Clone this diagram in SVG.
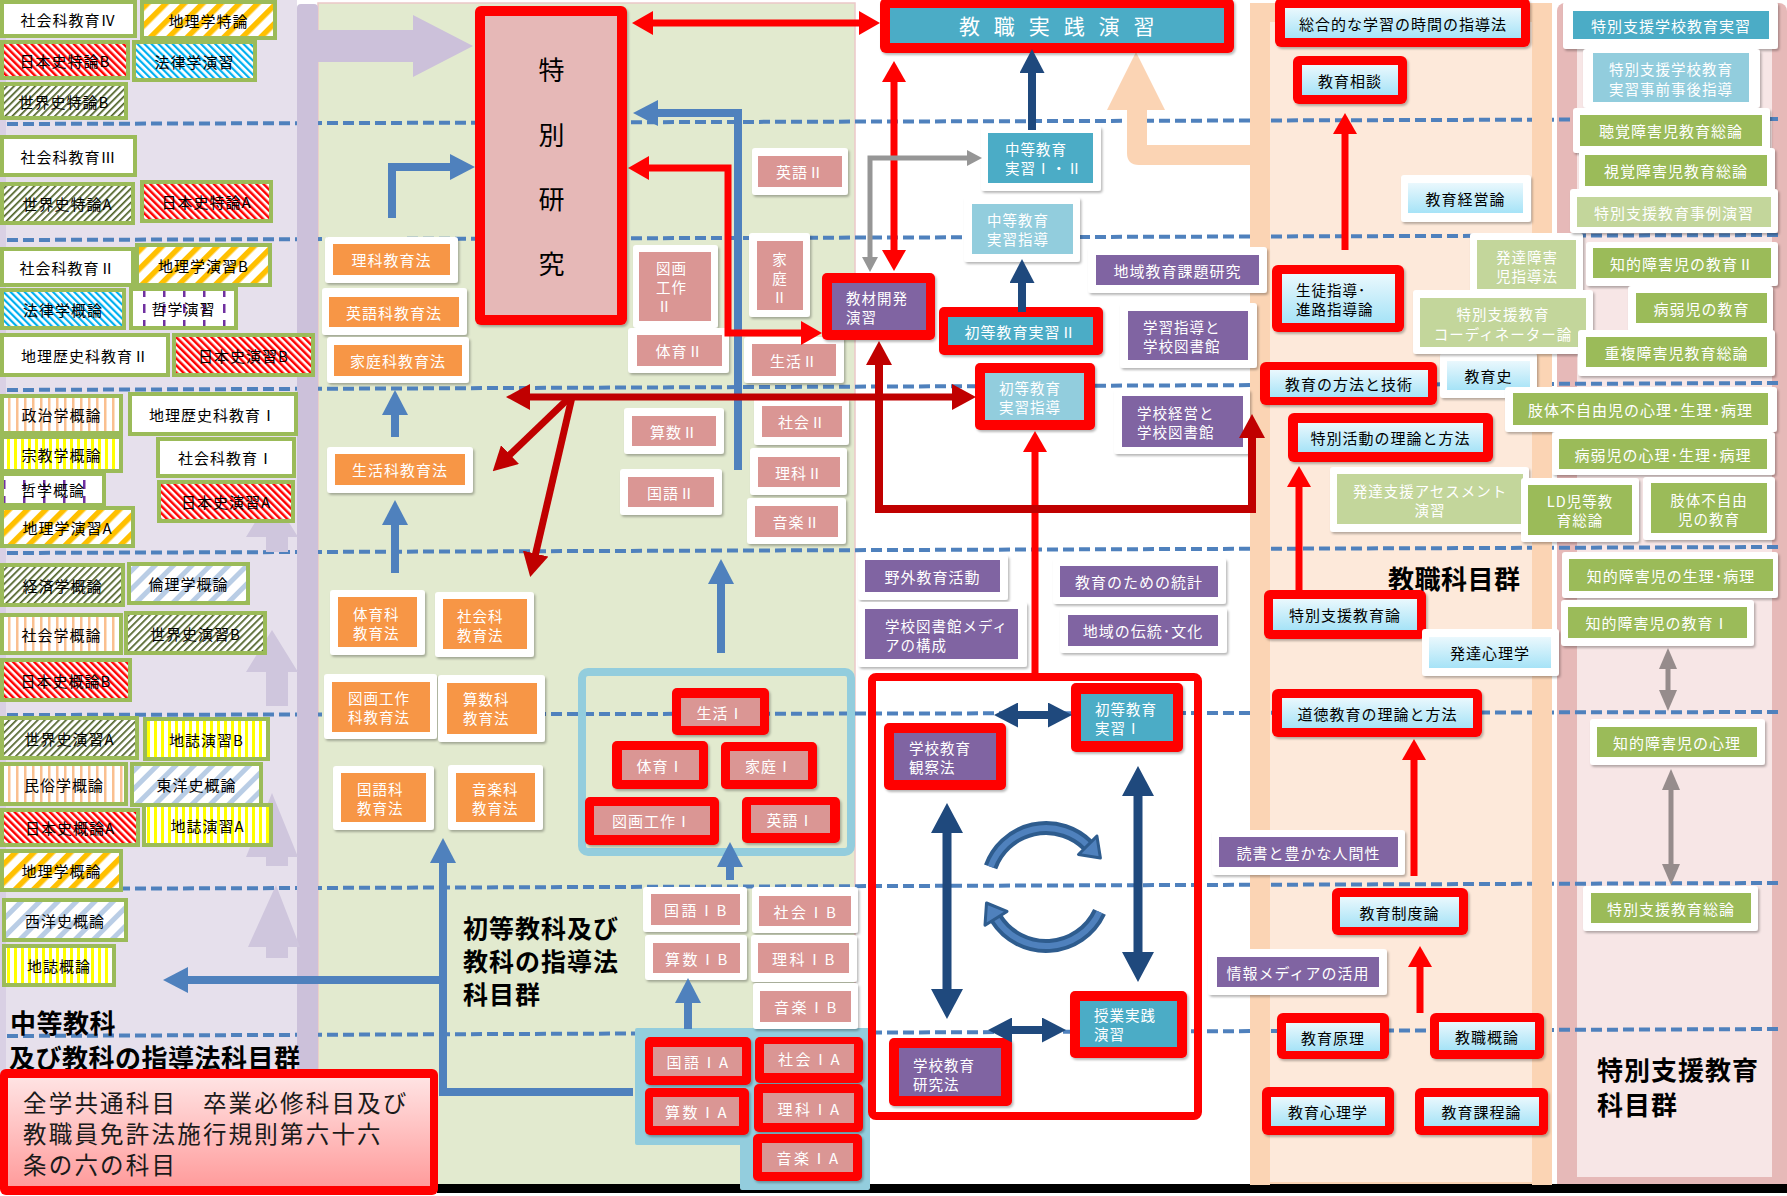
<svg xmlns="http://www.w3.org/2000/svg" width="1787" height="1196" viewBox="0 0 1787 1196">
<defs>
<style>
text{font-family:'Noto Sans CJK JP','Noto Sans CJK SC',sans-serif;font-size:15px;letter-spacing:1px;dominant-baseline:central;fill:#000}
.c{text-anchor:middle}
.w{fill:#fff}
.m{font-size:14.5px}
.b{font-weight:bold;font-size:26px;letter-spacing:0.5px}
.ow{fill:#fff;filter:url(#sh)}
.or{fill:#f00;filter:url(#sh)}
.og{fill:#9BBB59}
.pk{fill:#DA9694}
.on{fill:#F79646}
.tl{fill:#4BACC6}
.lt{fill:#92CDDD}
.pu{fill:#8064A2}
.gn{fill:#9BBB59}
.lg{fill:#C3D69B}
.lb{fill:url(#lbg)}
.dl{stroke:#4F81BD;stroke-width:4;stroke-dasharray:11 5;fill:none}
.cb{stroke:#4F81BD;stroke-width:8;fill:none}
.cr{stroke:#FF0000;stroke-width:7;fill:none}
.cd{stroke:#C00000;stroke-width:7;fill:none}
.cn{stroke:#1F497D;stroke-width:8;fill:none}
.cg{stroke:#969696;stroke-width:5;fill:none}
.cp{stroke:#968C8C;stroke-width:5;fill:none}
</style>
<filter id="sh" x="-5%" y="-5%" width="115%" height="125%"><feDropShadow dx="1.5" dy="2" stdDeviation="1.2" flood-color="#000" flood-opacity="0.28"/></filter>
<linearGradient id="lbg" x1="0" y1="0" x2="0" y2="1"><stop offset="0" stop-color="#EAF8FD"/><stop offset="1" stop-color="#A6E3F7"/></linearGradient>
<linearGradient id="pkg" x1="0" y1="0" x2="0" y2="1"><stop offset="0" stop-color="#FFE3E3"/><stop offset="1" stop-color="#FF9C9C"/></linearGradient>
<pattern id="pRed" patternUnits="userSpaceOnUse" width="5" height="5" patternTransform="rotate(-45)"><rect width="5" height="5" fill="#fff"/><rect width="2.5" height="5" fill="#FF0000"/></pattern>
<pattern id="pGrn" patternUnits="userSpaceOnUse" width="5" height="5" patternTransform="rotate(45)"><rect width="5" height="5" fill="#fff"/><rect width="1.7" height="5" fill="#4F6228"/></pattern>
<pattern id="pOrg" patternUnits="userSpaceOnUse" width="13" height="13" patternTransform="rotate(45)"><rect width="13" height="13" fill="#fff"/><rect width="5.5" height="13" fill="#FFC000"/></pattern>
<pattern id="pCya" patternUnits="userSpaceOnUse" width="5" height="5" patternTransform="rotate(-45)"><rect width="5" height="5" fill="#fff"/><rect width="2.2" height="5" fill="#00B0F0"/></pattern>
<pattern id="pLbl" patternUnits="userSpaceOnUse" width="13" height="13" patternTransform="rotate(45)"><rect width="13" height="13" fill="#fff"/><rect width="5" height="13" fill="#B9CDE5"/></pattern>
<pattern id="pPch" patternUnits="userSpaceOnUse" width="8" height="8"><rect width="8" height="8" fill="#fff"/><rect width="2.5" height="8" fill="#FAC090"/></pattern>
<pattern id="pYel" patternUnits="userSpaceOnUse" width="7" height="7"><rect width="7" height="7" fill="#fff"/><rect width="3" height="7" fill="#FFFF00"/></pattern>
<pattern id="pPur" patternUnits="userSpaceOnUse" width="20" height="16"><rect width="20" height="16" fill="#fff"/><rect x="3" width="2.5" height="9" fill="#7030A0"/></pattern>
<marker id="mb" markerUnits="userSpaceOnUse" markerWidth="25" markerHeight="26" viewBox="0 0 25 26" refX="1" refY="13" orient="auto-start-reverse"><path d="M0,0L25,13L0,26z" fill="#4F81BD"/></marker>
<marker id="mr" markerUnits="userSpaceOnUse" markerWidth="21" markerHeight="24" viewBox="0 0 21 24" refX="1" refY="12" orient="auto-start-reverse"><path d="M0,0L21,12L0,24z" fill="#FF0000"/></marker>
<marker id="md" markerUnits="userSpaceOnUse" markerWidth="24" markerHeight="26" viewBox="0 0 24 26" refX="1" refY="13" orient="auto-start-reverse"><path d="M0,0L24,13L0,26z" fill="#C00000"/></marker>
<marker id="mn" markerUnits="userSpaceOnUse" markerWidth="30" markerHeight="32" viewBox="0 0 30 32" refX="1" refY="16" orient="auto-start-reverse"><path d="M0,0L30,16L0,32z" fill="#1F497D"/></marker>
<marker id="mn2" markerUnits="userSpaceOnUse" markerWidth="24" markerHeight="25" viewBox="0 0 24 25" refX="1" refY="12.5" orient="auto-start-reverse"><path d="M0,0L24,12.5L0,25z" fill="#1F497D"/></marker>
<marker id="mg" markerUnits="userSpaceOnUse" markerWidth="15" markerHeight="16" viewBox="0 0 15 16" refX="1" refY="8" orient="auto-start-reverse"><path d="M0,0L15,8L0,16z" fill="#969696"/></marker>
<marker id="mp" markerUnits="userSpaceOnUse" markerWidth="21" markerHeight="18" viewBox="0 0 21 18" refX="1" refY="9" orient="auto-start-reverse"><path d="M0,0L21,9L0,18z" fill="#968C8C"/></marker>
</defs>

<g id="background">
<rect width="1787" height="1196" fill="#fff"/>
<rect x="0" y="0" width="297" height="1185" fill="#E6E0EC"/>
<rect x="0" y="0" width="6" height="1185" fill="#D9D0E4"/>
<rect x="318" y="3" width="537" height="1182" fill="#E2EACF" stroke="#EBC8C8" stroke-width="1.5"/>
<rect x="1250" y="3" width="302" height="1182" rx="10" fill="#FBD4B4"/>
<rect x="1270" y="22" width="262" height="1160" fill="#FDE9DA"/>
<rect x="1557" y="3" width="230" height="1190" rx="8" fill="#E6B9B8"/>
<rect x="1577" y="8" width="195" height="1169" fill="#F7E6E6"/>
<rect x="437" y="1184" width="1350" height="9" fill="#000"/>
</g>

<g id="dashed-lines">
<path class="dl" d="M7 124L1780 119"/>
<path class="dl" d="M7 240L1780 235"/>
<path class="dl" d="M7 390L1780 383"/>
<path class="dl" d="M7 553L1780 547"/>
<path class="dl" d="M7 715L1780 712"/>
<path class="dl" d="M7 889L1780 883"/>
<path class="dl" d="M7 1036L1780 1029"/>
</g>

<g id="panel-stripes">
<rect x="297" y="4" width="21" height="1181" rx="4" fill="#CCC1DA"/>
<rect x="1250" y="3" width="20" height="1182" fill="#FBD4B4"/>
<rect x="1532" y="3" width="20" height="1182" fill="#FBD4B4"/>
</g>

<g id="decor-arrows">
<polygon points="318,30 413,30 413,15 473,46 413,77 413,62 318,62" fill="#CCC1DA"/>
<polygon points="272,495 298,537 288,537 288,552 266,552 266,537 246,537" fill="#CFC6DD"/>
<polygon points="272,630 298,672 288,672 288,706 266,706 266,672 246,672" fill="#CFC6DD"/>
<polygon points="272,793 298,857 288,857 288,866 266,866 266,857 246,857" fill="#CFC6DD"/>
<polygon points="276,885 300,947 288,947 288,958 266,958 266,947 248,947" fill="#CFC6DD"/>
<path d="M1250 145H1147V110H1165L1136,52L1107,110H1127V153Q1127,165 1139,165H1250z" fill="#FBD4B4"/>
</g>

<g id="containers">
<rect x="582" y="672" width="269" height="180" rx="6" fill="none" stroke="#93CDDD" stroke-width="8"/>
<polygon points="637,1030 868,1030 868,1188 742,1188 742,1143 637,1143" fill="#93CDDD" stroke="#93CDDD" stroke-width="4" stroke-linejoin="round"/>
<rect x="872" y="677" width="326" height="439" rx="4" fill="none" stroke="#FF0000" stroke-width="8"/>
</g>

<g id="n1"><rect class="og" x="0" y="0" width="137" height="38"/><rect x="4" y="4" width="129" height="30" fill="#fff"/><text class="c" x="68.5" y="19">社会科教育Ⅳ</text></g>
<g id="n2"><rect class="og" x="140" y="0" width="137" height="40"/><rect x="144" y="4" width="129" height="32" fill="url(#pOrg)"/><text class="c" x="208.5" y="20">地理学特論</text></g>
<g id="n3"><rect class="og" x="0" y="40" width="130" height="40"/><rect x="4" y="44" width="122" height="32" fill="url(#pRed)"/><text class="c" x="65" y="60">日本史特論B</text></g>
<g id="n4"><rect class="og" x="132" y="40" width="125" height="42"/><rect x="136" y="44" width="117" height="34" fill="url(#pCya)"/><text class="c" x="194.5" y="61">法律学演習</text></g>
<g id="n5"><rect class="og" x="0" y="82" width="128" height="38"/><rect x="4" y="86" width="120" height="30" fill="url(#pGrn)"/><text class="c" x="64" y="101">世界史特論B</text></g>
<g id="n6"><rect class="og" x="0" y="135" width="137" height="42"/><rect x="4" y="139" width="129" height="34" fill="#fff"/><text class="c" x="68.5" y="156">社会科教育Ⅲ</text></g>
<g id="n7"><rect class="og" x="0" y="182" width="135" height="43"/><rect x="4" y="186" width="127" height="35" fill="url(#pGrn)"/><text class="c" x="67.5" y="203.5">世界史特論A</text></g>
<g id="n8"><rect class="og" x="140" y="180" width="133" height="43"/><rect x="144" y="184" width="125" height="35" fill="url(#pRed)"/><text class="c" x="206.5" y="201.5">日本史特論A</text></g>
<g id="n9"><rect class="og" x="0" y="247" width="135" height="40"/><rect x="4" y="251" width="127" height="32" fill="#fff"/><text class="c" x="67.5" y="267">社会科教育Ⅱ</text></g>
<g id="n10"><rect class="og" x="135" y="243" width="137" height="44"/><rect x="139" y="247" width="129" height="36" fill="url(#pOrg)"/><text class="c" x="203.5" y="265">地理学演習B</text></g>
<g id="n11"><rect class="og" x="0" y="288" width="126" height="42"/><rect x="4" y="292" width="118" height="34" fill="url(#pCya)"/><text class="c" x="63" y="309">法律学概論</text></g>
<g id="n12"><rect class="og" x="129" y="287" width="109" height="43"/><rect x="133" y="291" width="101" height="35" fill="url(#pPur)"/><text class="c" x="183.5" y="308.5">哲学演習</text></g>
<g id="n13"><rect class="og" x="0" y="333" width="170" height="44"/><rect x="4" y="337" width="162" height="36" fill="#fff"/><text class="c" x="85" y="355">地理歴史科教育Ⅱ</text></g>
<g id="n14"><rect class="og" x="172" y="333" width="143" height="44"/><rect x="176" y="337" width="135" height="36" fill="url(#pRed)"/><text class="c" x="243.5" y="355">日本史演習B</text></g>
<g id="n15"><rect class="og" x="0" y="394" width="123" height="41"/><rect x="4" y="398" width="115" height="33" fill="url(#pPch)"/><text class="c" x="61.5" y="414.5">政治学概論</text></g>
<g id="n16"><rect class="og" x="128" y="392" width="170" height="44"/><rect x="132" y="396" width="162" height="36" fill="#fff"/><text class="c" x="213" y="414">地理歴史科教育Ⅰ</text></g>
<g id="n17"><rect class="og" x="0" y="435" width="123" height="38"/><rect x="4" y="439" width="115" height="30" fill="url(#pYel)"/><text class="c" x="61.5" y="454">宗教学概論</text></g>
<g id="n18"><rect class="og" x="156" y="437" width="140" height="41"/><rect x="160" y="441" width="132" height="33" fill="#fff"/><text class="c" x="226" y="457.5">社会科教育Ⅰ</text></g>
<g id="n19"><rect class="og" x="0" y="472" width="106" height="35"/><rect x="4" y="476" width="98" height="27" fill="url(#pPur)"/><text class="c" x="53" y="489.5">哲学概論</text></g>
<g id="n20"><rect class="og" x="157" y="480" width="138" height="43"/><rect x="161" y="484" width="130" height="35" fill="url(#pRed)"/><text class="c" x="226" y="501.5">日本史演習A</text></g>
<g id="n21"><rect class="og" x="0" y="506" width="135" height="42"/><rect x="4" y="510" width="127" height="34" fill="url(#pOrg)"/><text class="c" x="67.5" y="527">地理学演習A</text></g>
<g id="n22"><rect class="og" x="0" y="563" width="125" height="44"/><rect x="4" y="567" width="117" height="36" fill="url(#pGrn)"/><text class="c" x="62.5" y="585">経済学概論</text></g>
<g id="n23"><rect class="og" x="127" y="562" width="123" height="43"/><rect x="131" y="566" width="115" height="35" fill="url(#pLbl)"/><text class="c" x="188.5" y="583.5">倫理学概論</text></g>
<g id="n24"><rect class="og" x="0" y="613" width="123" height="42"/><rect x="4" y="617" width="115" height="34" fill="url(#pPch)"/><text class="c" x="61.5" y="634">社会学概論</text></g>
<g id="n25"><rect class="og" x="124" y="611" width="143" height="44"/><rect x="128" y="615" width="135" height="36" fill="url(#pGrn)"/><text class="c" x="195.5" y="633">世界史演習B</text></g>
<g id="n26"><rect class="og" x="0" y="658" width="132" height="44"/><rect x="4" y="662" width="124" height="36" fill="url(#pRed)"/><text class="c" x="66" y="680">日本史概論B</text></g>
<g id="n27"><rect class="og" x="0" y="716" width="139" height="44"/><rect x="4" y="720" width="131" height="36" fill="url(#pGrn)"/><text class="c" x="69.5" y="738">世界史演習A</text></g>
<g id="n28"><rect class="og" x="143" y="717" width="127" height="44"/><rect x="147" y="721" width="119" height="36" fill="url(#pYel)"/><text class="c" x="206.5" y="739">地誌演習B</text></g>
<g id="n29"><rect class="og" x="0" y="762" width="128" height="44"/><rect x="4" y="766" width="120" height="36" fill="url(#pPch)"/><text class="c" x="64" y="784">民俗学概論</text></g>
<g id="n30"><rect class="og" x="130" y="762" width="133" height="45"/><rect x="134" y="766" width="125" height="37" fill="url(#pLbl)"/><text class="c" x="196.5" y="784.5">東洋史概論</text></g>
<g id="n31"><rect class="og" x="0" y="808" width="140" height="39"/><rect x="4" y="812" width="132" height="31" fill="url(#pRed)"/><text class="c" x="70" y="827.5">日本史概論A</text></g>
<g id="n32"><rect class="og" x="142" y="803" width="131" height="44"/><rect x="146" y="807" width="123" height="36" fill="url(#pYel)"/><text class="c" x="207.5" y="825">地誌演習A</text></g>
<g id="n33"><rect class="og" x="0" y="849" width="123" height="43"/><rect x="4" y="853" width="115" height="35" fill="url(#pOrg)"/><text class="c" x="61.5" y="870.5">地理学概論</text></g>
<g id="n34"><rect class="og" x="2" y="898" width="126" height="44"/><rect x="6" y="902" width="118" height="36" fill="url(#pLbl)"/><text class="c" x="65" y="920">西洋史概論</text></g>
<g id="n35"><rect class="og" x="2" y="944" width="114" height="43"/><rect x="6" y="948" width="106" height="35" fill="url(#pYel)"/><text class="c" x="59" y="965.5">地誌概論</text></g>

<g id="label-chuto"><text class="b" x="10" y="1021">中等教科<tspan x="9" dy="35">及び教科の指導法科目群</tspan></text></g>
<g id="note-box"><rect x="0" y="1069" width="438" height="126" rx="6" fill="#FF0000"/><rect x="8" y="1078" width="422" height="108" fill="url(#pkg)"/>
<text x="23" y="1102" style="font-size:23.5px;letter-spacing:2.2px;fill:#1a1a1a">全学共通科目　卒業必修科目及び<tspan x="23" dy="31">教職員免許法施行規則第六十六</tspan><tspan x="23" dy="31">条の六の科目</tspan></text></g>

<g id="n-rika-ho"><rect class="ow" x="325" y="237" width="133" height="46" rx="3"/><rect class="on" x="333" y="244" width="117" height="31"/><text class="c w" x="391.5" y="259.5">理科教育法</text></g>
<g id="n-eigo-ho"><rect class="ow" x="322" y="288" width="145" height="47" rx="3"/><rect class="on" x="329" y="297" width="130" height="30"/><text class="c w" x="394" y="312">英語科教育法</text></g>
<g id="n-katei-ho"><rect class="ow" x="327" y="337" width="142" height="46" rx="3"/><rect class="on" x="334" y="345" width="128" height="31"/><text class="c w" x="398" y="360.5">家庭科教育法</text></g>
<g id="n-seikatsu-ho"><rect class="ow" x="327" y="447" width="146" height="46" rx="3"/><rect class="on" x="335" y="454" width="130" height="31"/><text class="c w" x="400" y="469.5">生活科教育法</text></g>
<g id="n-taiiku-ho"><rect class="ow" x="330" y="590" width="95" height="65" rx="3"/><rect class="on" x="338" y="597" width="79" height="50"/><text class="w m" x="353" y="613">体育科<tspan x="353" dy="19">教育法</tspan></text></g>
<g id="n-shakai-ho"><rect class="ow" x="435" y="592" width="99" height="65" rx="3"/><rect class="on" x="443" y="599" width="84" height="50"/><text class="w m" x="457" y="615">社会科<tspan x="457" dy="19">教育法</tspan></text></g>
<g id="n-zuga-ho"><rect class="ow" x="324" y="674" width="113" height="65" rx="3"/><rect class="on" x="332" y="682" width="98" height="50"/><text class="w m" x="348" y="697">図画工作<tspan x="348" dy="19">科教育法</tspan></text></g>
<g id="n-sansu-ho"><rect class="ow" x="438" y="675" width="107" height="67" rx="3"/><rect class="on" x="447" y="683" width="90" height="51"/><text class="w m" x="463" y="698">算数科<tspan x="463" dy="19">教育法</tspan></text></g>
<g id="n-kokugo-ho"><rect class="ow" x="333" y="766" width="101" height="64" rx="3"/><rect class="on" x="341" y="773" width="85" height="49"/><text class="w m" x="357" y="788">国語科<tspan x="357" dy="19">教育法</tspan></text></g>
<g id="n-ongaku-ho"><rect class="ow" x="448" y="765" width="95" height="65" rx="3"/><rect class="on" x="456" y="773" width="79" height="49"/><text class="w m" x="472" y="788">音楽科<tspan x="472" dy="19">教育法</tspan></text></g>

<g id="n-tokubetsu-kenkyu"><rect class="or" x="475" y="6" width="152" height="319" rx="6"/><rect x="485" y="16" width="132" height="299" fill="#E6B8B7"/>
<text class="c" x="552" y="68" style="font-size:26px">特</text><text class="c" x="552" y="133" style="font-size:26px">別</text><text class="c" x="552" y="197" style="font-size:26px">研</text><text class="c" x="552" y="262" style="font-size:26px">究</text></g>

<g id="n-eigo2"><rect class="ow" x="752" y="148" width="96" height="47" rx="3"/><rect class="pk" x="758" y="156" width="84" height="31"/><text class="c w" x="800" y="171.5">英語Ⅱ</text></g>
<g id="n-zuga2"><rect class="ow" x="633" y="245" width="85" height="83" rx="3"/><rect class="pk" x="639" y="252" width="72" height="69"/><text class="w m" x="656" y="267">図画<tspan x="656" dy="19">工作</tspan><tspan x="657" dy="19">Ⅱ</tspan></text></g>
<g id="n-katei2"><rect class="ow" x="749" y="233" width="61" height="84" rx="3"/><rect class="pk" x="757" y="241" width="46" height="69"/><text class="c w m" x="780" y="258">家<tspan x="780" dy="19">庭</tspan><tspan x="780" dy="19">Ⅱ</tspan></text></g>
<g id="n-taiiku2"><rect class="ow" x="628" y="328" width="101" height="45" rx="3"/><rect class="pk" x="637" y="335" width="85" height="31"/><text class="c w" x="679.5" y="350.5">体育Ⅱ</text></g>
<g id="n-seikatsu2"><rect class="ow" x="744" y="337" width="100" height="46" rx="3"/><rect class="pk" x="752" y="344" width="84" height="32"/><text class="c w" x="794" y="360">生活Ⅱ</text></g>
<g id="n-sansu2"><rect class="ow" x="624" y="408" width="100" height="46" rx="3"/><rect class="pk" x="632" y="416" width="84" height="30"/><text class="c w" x="674" y="431">算数Ⅱ</text></g>
<g id="n-kokugo2"><rect class="ow" x="620" y="469" width="102" height="46" rx="3"/><rect class="pk" x="628" y="477" width="86" height="30"/><text class="c w" x="671" y="492">国語Ⅱ</text></g>
<g id="n-shakai2"><rect class="ow" x="754" y="398" width="95" height="47" rx="3"/><rect class="pk" x="762" y="406" width="80" height="31"/><text class="c w" x="802" y="421.5">社会Ⅱ</text></g>
<g id="n-rika2"><rect class="ow" x="750" y="448" width="97" height="47" rx="3"/><rect class="pk" x="758" y="457" width="82" height="30"/><text class="c w" x="799" y="472">理科Ⅱ</text></g>
<g id="n-ongaku2"><rect class="ow" x="747" y="498" width="99" height="46" rx="3"/><rect class="pk" x="755" y="506" width="83" height="31"/><text class="c w" x="796.5" y="521.5">音楽Ⅱ</text></g>

<g id="n-seikatsu1"><rect class="or" x="672" y="688" width="97" height="47" rx="5"/><rect class="pk" x="681" y="698" width="79" height="28"/><text class="c w" x="720.5" y="712">生活Ⅰ</text></g>
<g id="n-taiiku1"><rect class="or" x="612" y="741" width="96" height="48" rx="5"/><rect class="pk" x="622" y="750" width="77" height="30"/><text class="c w" x="660.5" y="765">体育Ⅰ</text></g>
<g id="n-katei1"><rect class="or" x="721" y="742" width="96" height="47" rx="5"/><rect class="pk" x="730" y="751" width="78" height="29"/><text class="c w" x="769" y="765.5">家庭Ⅰ</text></g>
<g id="n-zuga1"><rect class="or" x="585" y="797" width="134" height="48" rx="5"/><rect class="pk" x="594" y="806" width="116" height="29"/><text class="c w" x="652" y="820.5">図画工作Ⅰ</text></g>
<g id="n-eigo1"><rect class="or" x="742" y="797" width="98" height="46" rx="5"/><rect class="pk" x="751" y="805" width="79" height="28"/><text class="c w" x="790.5" y="819">英語Ⅰ</text></g>

<g id="n-kokugo1b"><rect class="ow" x="643" y="887" width="104" height="45" rx="3"/><rect class="pk" x="651" y="894" width="89" height="31"/><text class="c w" x="696.5" y="909.5" style="letter-spacing:2.5px">国語ⅠB</text></g>
<g id="n-shakai1b"><rect class="ow" x="752" y="887" width="106" height="46" rx="3"/><rect class="pk" x="759" y="896" width="92" height="30"/><text class="c w" x="806" y="911" style="letter-spacing:2.5px">社会ⅠB</text></g>
<g id="n-sansu1b"><rect class="ow" x="645" y="935" width="102" height="45" rx="3"/><rect class="pk" x="653" y="943" width="87" height="30"/><text class="c w" x="697.5" y="958" style="letter-spacing:2.5px">算数ⅠB</text></g>
<g id="n-rika1b"><rect class="ow" x="751" y="935" width="106" height="47" rx="3"/><rect class="pk" x="758" y="943" width="91" height="30"/><text class="c w" x="804.5" y="958" style="letter-spacing:2.5px">理科ⅠB</text></g>
<g id="n-ongaku1b"><rect class="ow" x="753" y="983" width="105" height="46" rx="3"/><rect class="pk" x="760" y="991" width="91" height="31"/><text class="c w" x="806.5" y="1006.5" style="letter-spacing:2.5px">音楽ⅠB</text></g>

<g id="n-kokugo1a"><rect class="or" x="645" y="1037" width="106" height="48" rx="5"/><rect class="pk" x="653" y="1047" width="89" height="29"/><text class="c w" x="698.5" y="1061.5" style="letter-spacing:2.5px">国語ⅠA</text></g>
<g id="n-shakai1a"><rect class="or" x="755" y="1037" width="108" height="46" rx="5"/><rect class="pk" x="764" y="1044" width="90" height="29"/><text class="c w" x="810" y="1058.5" style="letter-spacing:2.5px">社会ⅠA</text></g>
<g id="n-sansu1a"><rect class="or" x="645" y="1088" width="104" height="47" rx="5"/><rect class="pk" x="653" y="1097" width="86" height="29"/><text class="c w" x="697" y="1111.5" style="letter-spacing:2.5px">算数ⅠA</text></g>
<g id="n-rika1a"><rect class="or" x="754" y="1084" width="109" height="48" rx="5"/><rect class="pk" x="763" y="1093" width="91" height="30"/><text class="c w" x="809.5" y="1108" style="letter-spacing:2.5px">理科ⅠA</text></g>
<g id="n-ongaku1a"><rect class="or" x="753" y="1134" width="109" height="47" rx="5"/><rect class="pk" x="762" y="1143" width="91" height="29"/><text class="c w" x="808.5" y="1157.5" style="letter-spacing:2.5px">音楽ⅠA</text></g>

<g id="label-shoto"><text class="b" x="463" y="927" style="font-size:25px;letter-spacing:1px">初等教科及び<tspan x="463" dy="33">教科の指導法</tspan><tspan x="463" dy="33">科目群</tspan></text></g>

<g id="n-kyoshoku-jissen"><rect class="or" x="880" y="-2" width="354" height="55" rx="6"/><rect class="tl" x="890" y="8" width="334" height="35"/><text class="c w" x="1059" y="25" style="font-size:21px;letter-spacing:4.6px">教 職 実 践 演 習</text></g>
<g id="n-kyozai"><rect class="or" x="822" y="273" width="113" height="67" rx="5"/><rect class="pu" x="832" y="283" width="94" height="47"/><text class="w m" x="846" y="297">教材開発<tspan x="846" dy="19">演習</tspan></text></g>
<g id="n-chuto-jisshu"><rect class="ow" x="981" y="126" width="120" height="65" rx="3"/><rect class="tl" x="988" y="133" width="105" height="50"/><text class="w m" x="1005" y="148">中等教育<tspan x="1005" dy="19">実習Ⅰ・Ⅱ</tspan></text></g>
<g id="n-chuto-shido"><rect class="ow" x="964" y="197" width="116" height="65" rx="3"/><rect class="lt" x="972" y="204" width="101" height="50"/><text class="w m" x="987" y="219">中等教育<tspan x="987" dy="19">実習指導</tspan></text></g>
<g id="n-shoto-jisshu2"><rect class="or" x="939" y="307" width="164" height="48" rx="5"/><rect class="tl" x="948" y="317" width="145" height="28"/><text class="c w" x="1020.5" y="331">初等教育実習Ⅱ</text></g>
<g id="n-chiiki-kadai"><rect class="ow" x="1088" y="247" width="179" height="46" rx="3"/><rect class="pu" x="1096" y="255" width="163" height="30"/><text class="c w" x="1177.5" y="270">地域教育課題研究</text></g>
<g id="n-gakushu-tosho"><rect class="ow" x="1120" y="303" width="137" height="65" rx="3"/><rect class="pu" x="1128" y="311" width="120" height="49"/><text class="w m" x="1143" y="326">学習指導と<tspan x="1143" dy="19">学校図書館</tspan></text></g>
<g id="n-shoto-shido"><rect class="or" x="975" y="363" width="120" height="67" rx="5"/><rect class="lt" x="985" y="373" width="99" height="47"/><text class="w m" x="999" y="387">初等教育<tspan x="999" dy="19">実習指導</tspan></text></g>
<g id="n-gakko-keiei"><rect class="ow" x="1114" y="389" width="136" height="65" rx="3"/><rect class="pu" x="1122" y="396" width="121" height="51"/><text class="w m" x="1137" y="412">学校経営と<tspan x="1137" dy="19">学校図書館</tspan></text></g>
<g id="n-yagai"><rect class="ow" x="858" y="555" width="150" height="45" rx="3"/><rect class="pu" x="865" y="560" width="135" height="32"/><text class="c w" x="932.5" y="576">野外教育活動</text></g>
<g id="n-media"><rect class="ow" x="858" y="602" width="169" height="65" rx="3"/><rect class="pu" x="865" y="609" width="153" height="50"/><text class="w m" x="885" y="625">学校図書館メディ<tspan x="885" dy="19">アの構成</tspan></text></g>
<g id="n-tokei"><rect class="ow" x="1053" y="558" width="173" height="46" rx="3"/><rect class="pu" x="1060" y="566" width="158" height="31"/><text class="c w" x="1139" y="581.5">教育のための統計</text></g>
<g id="n-dento"><rect class="ow" x="1060" y="608" width="167" height="45" rx="3"/><rect class="pu" x="1068" y="615" width="150" height="31"/><text class="c w" x="1143" y="630.5">地域の伝統･文化</text></g>

<g id="n-shoto-jisshu1"><rect class="or" x="1071" y="683" width="112" height="69" rx="5"/><rect class="tl" x="1081" y="694" width="92" height="47"/><text class="w m" x="1095" y="708">初等教育<tspan x="1095" dy="19">実習Ⅰ</tspan></text></g>
<g id="n-kansatsu"><rect class="or" x="884" y="723" width="122" height="67" rx="5"/><rect class="pu" x="894" y="733" width="102" height="47"/><text class="w m" x="909" y="747">学校教育<tspan x="909" dy="19">観察法</tspan></text></g>
<g id="n-jugyo"><rect class="or" x="1070" y="991" width="117" height="67" rx="5"/><rect class="tl" x="1080" y="1001" width="97" height="46"/><text class="w m" x="1094" y="1014">授業実践<tspan x="1094" dy="19">演習</tspan></text></g>
<g id="n-kenkyuho"><rect class="or" x="889" y="1038" width="123" height="68" rx="5"/><rect class="pu" x="899" y="1048" width="102" height="48"/><text class="w m" x="913" y="1064">学校教育<tspan x="913" dy="19">研究法</tspan></text></g>
<g id="n-dokusho"><rect class="ow" x="1212" y="830" width="193" height="45" rx="3"/><rect class="pu" x="1219" y="837" width="179" height="30"/><text class="c w" x="1308.5" y="852">読書と豊かな人間性</text></g>
<g id="n-joho"><rect class="ow" x="1208" y="949" width="179" height="46" rx="3"/><rect class="pu" x="1217" y="957" width="162" height="30"/><text class="c w" x="1298" y="972">情報メディアの活用</text></g>

<g id="n-sogo"><rect class="or" x="1275" y="-2" width="255" height="49" rx="6"/><rect class="lb" x="1285" y="8" width="236" height="30"/><text class="c" x="1403" y="23">総合的な学習の時間の指導法</text></g>
<g id="n-sodan"><rect class="or" x="1293" y="56" width="114" height="48" rx="6"/><rect class="lb" x="1302" y="65" width="96" height="30"/><text class="c" x="1350" y="80">教育相談</text></g>
<g id="n-keiei"><rect class="ow" x="1401" y="175" width="130" height="47" rx="3"/><rect class="lb" x="1408" y="183" width="115" height="30"/><text class="c" x="1465.5" y="198">教育経営論</text></g>
<g id="n-seito"><rect class="or" x="1272" y="265" width="132" height="67" rx="6"/><rect class="lb" x="1282" y="274" width="113" height="49"/><text class="m" x="1296" y="289">生徒指導･<tspan x="1296" dy="19">進路指導論</tspan></text></g>
<g id="n-hoho"><rect class="or" x="1260" y="362" width="177" height="43" rx="6"/><rect class="lb" x="1270" y="370" width="158" height="27"/><text class="c" x="1349" y="383.5">教育の方法と技術</text></g>
<g id="n-kyoikushi"><rect class="ow" x="1440" y="353" width="97" height="45" rx="3"/><rect class="lb" x="1447" y="361" width="83" height="29"/><text class="c" x="1488.5" y="375.5">教育史</text></g>
<g id="n-tokkatsu"><rect class="or" x="1288" y="413" width="205" height="49" rx="6"/><rect class="lb" x="1298" y="423" width="185" height="29"/><text class="c" x="1390.5" y="437.5">特別活動の理論と方法</text></g>
<g id="n-assess"><rect class="ow" x="1330" y="467" width="199" height="65" rx="3"/><rect class="lg" x="1337" y="474" width="186" height="50"/><text class="c w m" x="1430" y="490">発達支援アセスメント<tspan x="1430" dy="19">演習</tspan></text></g>
<g id="label-kyoshoku"><text class="b" x="1388" y="577">教職科目群</text></g>
<g id="n-tokushi-ron"><rect class="or" x="1264" y="590" width="162" height="49" rx="6"/><rect class="lb" x="1273" y="599" width="144" height="31"/><text class="c" x="1345" y="614.5">特別支援教育論</text></g>
<g id="n-hattatsu-shinri"><rect class="ow" x="1422" y="629" width="137" height="47" rx="3"/><rect class="lb" x="1429" y="637" width="122" height="31"/><text class="c" x="1490" y="652.5">発達心理学</text></g>
<g id="n-dotoku"><rect class="or" x="1272" y="689" width="210" height="48" rx="6"/><rect class="lb" x="1282" y="698" width="191" height="30"/><text class="c" x="1377.5" y="713">道徳教育の理論と方法</text></g>
<g id="n-seido"><rect class="or" x="1332" y="888" width="136" height="47" rx="6"/><rect class="lb" x="1340" y="897" width="119" height="30"/><text class="c" x="1399.5" y="912">教育制度論</text></g>
<g id="n-genri"><rect class="or" x="1277" y="1013" width="112" height="46" rx="6"/><rect class="lb" x="1286" y="1023" width="94" height="28"/><text class="c" x="1333" y="1037">教育原理</text></g>
<g id="n-gairon"><rect class="or" x="1430" y="1013" width="114" height="46" rx="6"/><rect class="lb" x="1439" y="1022" width="96" height="28"/><text class="c" x="1487" y="1036">教職概論</text></g>
<g id="n-shinri"><rect class="or" x="1262" y="1087" width="132" height="48" rx="6"/><rect class="lb" x="1271" y="1097" width="114" height="29"/><text class="c" x="1328" y="1111.5">教育心理学</text></g>
<g id="n-katei-ron"><rect class="or" x="1415" y="1088" width="133" height="47" rx="6"/><rect class="lb" x="1424" y="1097" width="115" height="29"/><text class="c" x="1481.5" y="1111.5">教育課程論</text></g>
<g id="n-hattatsu-shido"><rect class="ow" x="1470" y="233" width="113" height="60" rx="3"/><rect class="lg" x="1477" y="240" width="99" height="49"/><text class="c w m" x="1527" y="256">発達障害<tspan x="1527" dy="19">児指導法</tspan></text></g>
<g id="n-coordinator"><rect class="ow" x="1413" y="290" width="180" height="64" rx="3"/><rect class="lg" x="1420" y="298" width="166" height="49"/><text class="c w m" x="1503" y="313">特別支援教育<tspan x="1503" dy="20">コーディネーター論</tspan></text></g>

<g id="n-sp-jisshu"><rect class="ow" x="1563" y="2" width="215" height="47" rx="3"/><rect class="tl" x="1573" y="11" width="196" height="28"/><text class="c w" x="1671" y="25">特別支援学校教育実習</text></g>
<g id="n-sp-jizen"><rect class="ow" x="1583" y="49" width="177" height="59" rx="3"/><rect class="lt" x="1593" y="53" width="156" height="49"/><text class="c w m" x="1671" y="68.5">特別支援学校教育<tspan x="1671" dy="19">実習事前事後指導</tspan></text></g>
<g id="n-chokaku"><rect class="ow" x="1573" y="108" width="197" height="45" rx="3"/><rect class="gn" x="1580" y="115" width="182" height="31"/><text class="c w" x="1671" y="130.5">聴覚障害児教育総論</text></g>
<g id="n-shikaku"><rect class="ow" x="1579" y="148" width="196" height="46" rx="3"/><rect class="gn" x="1585" y="155" width="182" height="31"/><text class="c w" x="1676" y="170.5">視覚障害児教育総論</text></g>
<g id="n-jirei"><rect class="ow" x="1570" y="189" width="208" height="44" rx="3"/><rect class="lg" x="1577" y="197" width="194" height="30"/><text class="c w" x="1674" y="212">特別支援教育事例演習</text></g>
<g id="n-chiteki2"><rect class="ow" x="1586" y="242" width="192" height="44" rx="3"/><rect class="gn" x="1593" y="248" width="178" height="30"/><text class="c w" x="1682" y="263">知的障害児の教育Ⅱ</text></g>
<g id="n-byojaku"><rect class="ow" x="1628" y="286" width="145" height="46" rx="3"/><rect class="gn" x="1636" y="293" width="131" height="30"/><text class="c w" x="1701.5" y="308">病弱児の教育</text></g>
<g id="n-jufuku"><rect class="ow" x="1578" y="330" width="197" height="46" rx="3"/><rect class="gn" x="1586" y="337" width="181" height="30"/><text class="c w" x="1676.5" y="352">重複障害児教育総論</text></g>
<g id="n-shitai-shinri"><rect class="ow" x="1505" y="387" width="272" height="45" rx="3"/><rect class="gn" x="1513" y="393" width="255" height="32"/><text class="c w" x="1640.5" y="409">肢体不自由児の心理･生理･病理</text></g>
<g id="n-byojaku-shinri"><rect class="ow" x="1552" y="432" width="223" height="43" rx="3"/><rect class="gn" x="1559" y="439" width="208" height="30"/><text class="c w" x="1663" y="454">病弱児の心理･生理･病理</text></g>
<g id="n-ld"><rect class="ow" x="1521" y="478" width="118" height="64" rx="3"/><rect class="gn" x="1528" y="485" width="104" height="50"/><text class="c w m" x="1580" y="500">LD児等教<tspan x="1580" dy="19">育総論</tspan></text></g>
<g id="n-shitai-kyoiku"><rect class="ow" x="1643" y="477" width="132" height="63" rx="3"/><rect class="gn" x="1651" y="483" width="116" height="50"/><text class="c w m" x="1709" y="499">肢体不自由<tspan x="1709" dy="19">児の教育</tspan></text></g>
<g id="n-chiteki-seiri"><rect class="ow" x="1562" y="552" width="216" height="46" rx="3"/><rect class="gn" x="1569" y="559" width="204" height="32"/><text class="c w" x="1671" y="575">知的障害児の生理･病理</text></g>
<g id="n-chiteki1"><rect class="ow" x="1561" y="600" width="193" height="46" rx="3"/><rect class="gn" x="1568" y="607" width="179" height="31"/><text class="c w" x="1657.5" y="622.5">知的障害児の教育Ⅰ</text></g>
<g id="n-chiteki-shinri"><rect class="ow" x="1590" y="719" width="175" height="46" rx="3"/><rect class="gn" x="1597" y="727" width="160" height="30"/><text class="c w" x="1677" y="742">知的障害児の心理</text></g>
<g id="n-tokushi-soron"><rect class="ow" x="1583" y="886" width="175" height="45" rx="3"/><rect class="gn" x="1591" y="893" width="160" height="30"/><text class="c w" x="1671" y="908">特別支援教育総論</text></g>
<g id="label-tokushi"><text class="b" x="1597" y="1068" style="letter-spacing:1px">特別支援教育<tspan x="1597" dy="35">科目群</tspan></text></g>

<g id="connectors">
<path class="cb" d="M392 218V167H451" marker-end="url(#mb)"/>
<path class="cb" d="M395 437V414" marker-end="url(#mb)"/>
<path class="cb" d="M395 573V524" marker-end="url(#mb)"/>
<path class="cb" d="M633 1092H443V862" marker-end="url(#mb)"/>
<path class="cb" d="M443 980H187" marker-end="url(#mb)"/>
<path class="cb" d="M721 653V583" marker-end="url(#mb)"/>
<path class="cb" d="M730 880V866" marker-end="url(#mb)"/>
<path class="cb" d="M688 1029V1002" marker-end="url(#mb)"/>
<path class="cb" d="M738 470V113H657" marker-end="url(#mb)"/>
<path class="cr" d="M652 23H860" marker-start="url(#mr)" marker-end="url(#mr)"/>
<path class="cr" d="M648 168H728V333H802" marker-start="url(#mr)" marker-end="url(#mr)"/>
<path class="cr" d="M894 81V251" marker-start="url(#mr)" marker-end="url(#mr)"/>
<path class="cr" d="M1035 677V451" marker-end="url(#mr)"/>
<path class="cr" d="M1345 250V133" marker-end="url(#mr)"/>
<path class="cr" d="M1299 590V486" marker-end="url(#mr)"/>
<path class="cr" d="M1414 876V759" marker-end="url(#mr)"/>
<path class="cr" d="M1420 1013V966" marker-end="url(#mr)"/>
<path class="cd" d="M529 397H953" marker-start="url(#md)" marker-end="url(#md)"/>
<path class="cd" d="M570 397L509.3 455.3" marker-end="url(#md)"/>
<path class="cd" d="M572 397L535.4 554.6" marker-end="url(#md)"/>
<path class="cd" style="stroke-width:8" d="M879 364V509H1252V437" marker-start="url(#md)" marker-end="url(#md)"/>
<path class="cg" d="M870 258V158H968" marker-start="url(#mg)" marker-end="url(#mg)"/>
<path class="cn" d="M1032 130V72" marker-end="url(#mn2)"/>
<path class="cn" d="M1022 312V282" marker-end="url(#mn2)"/>
<path class="cn" d="M1017 715H1049" marker-start="url(#mn2)" marker-end="url(#mn2)"/>
<path class="cn" d="M1011 1030H1043" marker-start="url(#mn2)" marker-end="url(#mn2)"/>
<path class="cn" style="stroke-width:9" d="M947 832V990" marker-start="url(#mn)" marker-end="url(#mn)"/>
<path class="cn" style="stroke-width:9" d="M1138 795V953" marker-start="url(#mn)" marker-end="url(#mn)"/>
<path class="cp" d="M1668 668V691" marker-start="url(#mp)" marker-end="url(#mp)"/>
<path class="cp" d="M1671 789V865" marker-start="url(#mp)" marker-end="url(#mp)"/>
<g id="cycle">
<path d="M990.6 866.8A59 59 0 0 1 1087.7 845.3" fill="none" stroke="#2E5C8E" stroke-width="14"/>
<path d="M990.6 866.8A59 59 0 0 1 1087.7 845.3" fill="none" stroke="#4F81BD" stroke-width="6"/>
<polygon points="1100.4,858 1096.9,836.1 1078.5,854.5" fill="#4F81BD" stroke="#2E5C8E" stroke-width="3" stroke-linejoin="round"/>
<path d="M1099.5 911.9A59 59 0 0 1 996 918.3" fill="none" stroke="#2E5C8E" stroke-width="14"/>
<path d="M1099.5 911.9A59 59 0 0 1 996 918.3" fill="none" stroke="#4F81BD" stroke-width="6"/>
<polygon points="986.5,903 985,925.2 1007,911.4" fill="#4F81BD" stroke="#2E5C8E" stroke-width="3" stroke-linejoin="round"/>
</g>
</g>
</svg>
